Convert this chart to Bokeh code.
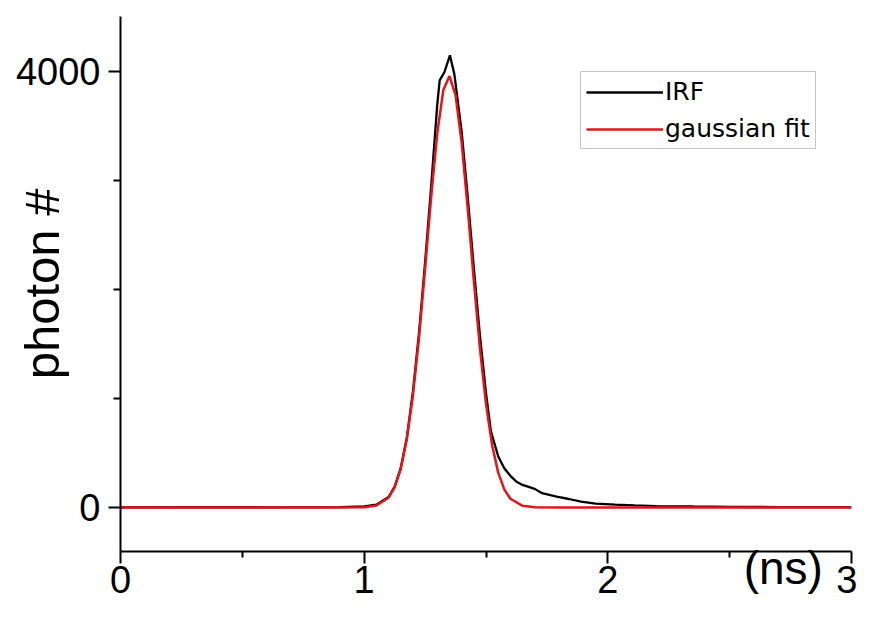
from bokeh.plotting import figure
from bokeh.models import (Range1d, FixedTicker, Legend, LegendItem, LinearAxis,
                          CustomJSTickFormatter)
from bokeh.embed import file_html
from bokeh.resources import INLINE

# ---- data ----
irf_t = [0.0, 0.3, 0.6, 0.9, 1.0, 1.05, 1.1, 1.125, 1.15, 1.175, 1.2, 1.225, 1.25,
         1.275, 1.3, 1.31, 1.33, 1.352, 1.37, 1.4, 1.425, 1.45, 1.475, 1.5, 1.52,
         1.55, 1.575, 1.6, 1.625, 1.65, 1.7, 1.73, 1.79, 1.84, 1.89, 1.95, 2.03,
         2.11, 2.2, 2.35, 2.5, 2.7, 3.0]
irf_counts = [0, 2, 1, 3, 10, 25, 95, 190, 360, 640, 1060, 1600, 2250,
              2950, 3700, 3920, 4000, 4150, 3980, 3450, 2850, 2200, 1580, 1050, 700,
              470, 360, 290, 236, 206, 170, 130, 98, 77, 52, 34, 25,
              18, 12, 8, 5, 3, 2]

fit_t = [0.0, 0.9, 1.0, 1.05, 1.1, 1.125, 1.15, 1.175, 1.2, 1.225, 1.25, 1.275,
         1.3, 1.325, 1.35, 1.375, 1.4, 1.425, 1.45, 1.475, 1.5, 1.525, 1.55,
         1.575, 1.6, 1.65, 1.7, 1.8, 3.0]
fit_counts = [0, 0, 2, 17, 89, 184, 352, 626, 1026, 1556, 2189, 2851,
              3435, 3833, 3960, 3786, 3351, 2745, 2084, 1463, 951, 572, 319,
              165, 79, 14, 2, 0, 0]

x_ticks = [0, 1, 2, 3]
x_minor = [0.5, 1.5, 2.5]
y_ticks = [0, 4000]
y_minor = [1000, 2000, 3000]
series_names = ["IRF", "gaussian fit"]
series_colors = ["#000000", "#e3151b"]
x_title = "(ns)"
x_title_pos = [2.72]
y_title = "photon #"

FONT = "Liberation Sans"

p = figure(width=857, height=602, output_backend="svg", toolbar_location=None,
           x_range=Range1d(0, 3), y_range=Range1d(-405, 4507),
           min_border_left=120, min_border_right=6, min_border_top=16,
           min_border_bottom=51)
p.outline_line_color = None
p.xgrid.visible = False
p.ygrid.visible = False
p.background_fill_color = "white"
p.border_fill_color = "white"

r_irf = p.line(irf_t, irf_counts, line_color=series_colors[0], line_width=2.3)
r_fit = p.line(fit_t, fit_counts, line_color=series_colors[1], line_width=2.5)

# x axis
xa = p.xaxis[0]
xa.ticker = FixedTicker(ticks=x_ticks, minor_ticks=x_minor)
xa.axis_line_width = 2
xa.major_tick_line_width = 2
xa.minor_tick_line_width = 2
xa.major_tick_out = 12
xa.major_tick_in = 0
xa.minor_tick_out = 6
xa.minor_tick_in = 0
xa.major_label_standoff = 2
xa.major_label_text_font = FONT
xa.major_label_text_font_size = "38px"
xa.major_label_text_color = "black"

# x title "(ns)" sitting on the tick-label row, near the right end
xt = LinearAxis(ticker=FixedTicker(ticks=x_title_pos),
                formatter=CustomJSTickFormatter(code="return '%s'" % x_title),
                axis_line_color=None, major_tick_line_color=None,
                minor_tick_line_color=None, major_tick_out=0, major_tick_in=0,
                minor_tick_out=0, minor_tick_in=0, major_label_standoff=-54,
                major_label_text_font=FONT, major_label_text_font_size="46px",
                major_label_text_color="black")
p.add_layout(xt, "below")

# y axis
ya = p.yaxis[0]
ya.ticker = FixedTicker(ticks=y_ticks, minor_ticks=y_minor)
ya.axis_line_width = 2
ya.major_tick_line_width = 2
ya.minor_tick_line_width = 2
ya.major_tick_out = 12
ya.major_tick_in = 0
ya.minor_tick_out = 7
ya.minor_tick_in = 0
ya.major_label_standoff = 8
ya.major_label_text_font = FONT
ya.major_label_text_font_size = "38px"
ya.major_label_text_color = "black"
ya.major_label_orientation = "horizontal"
ya.axis_label = y_title
ya.axis_label_text_font = FONT
ya.axis_label_text_font_size = "49px"
ya.axis_label_text_font_style = "normal"
ya.axis_label_text_color = "black"
ya.axis_label_standoff = -56

legend = Legend(items=[LegendItem(label=series_names[0], renderers=[r_irf]),
                       LegendItem(label=series_names[1], renderers=[r_fit])],
                location=(460, 402), margin=0, padding=5, spacing=8,
                glyph_width=77, glyph_height=28, label_height=28,
                label_standoff=2, label_text_font="DejaVu Sans",
                label_text_font_size="25px", label_text_color="black",
                border_line_color="#8c8c8c", border_line_width=1.5,
                background_fill_color="white", background_fill_alpha=1.0)
p.add_layout(legend)

open("out.html", "w").write(file_html(p, INLINE))
